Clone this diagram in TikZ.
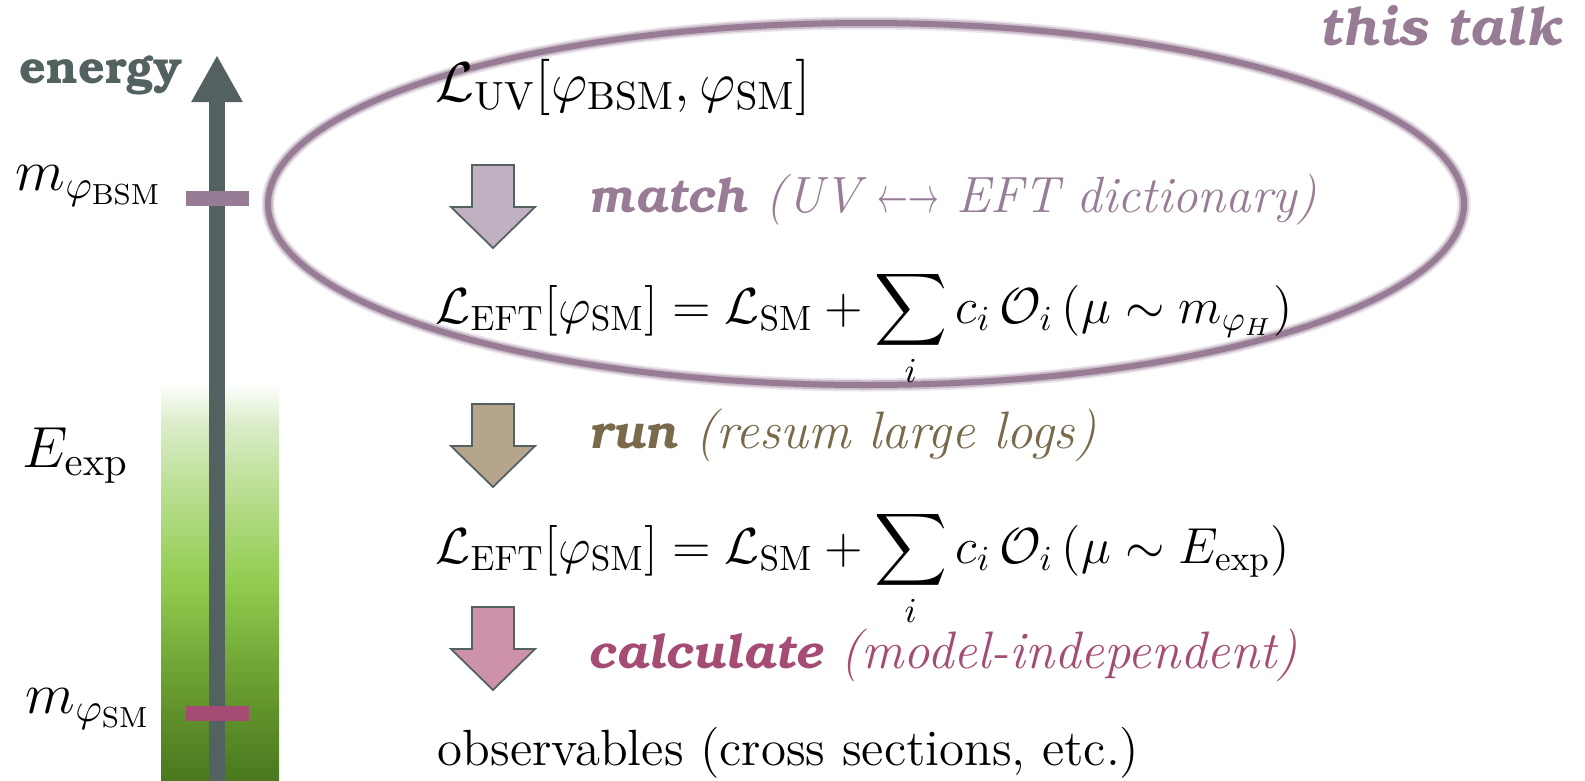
\RequirePackage{fix-cm}
\documentclass[tikz,border=0pt]{standalone}
\usepackage[T1,TU]{fontenc}
\usepackage{amsmath}
\usetikzlibrary{arrows.meta}

\definecolor{axisgray}{HTML}{536161}
\definecolor{talkpurple}{HTML}{987C96}
\definecolor{matchfill}{HTML}{C0B0C2}
\definecolor{runbrown}{HTML}{786A4B}
\definecolor{runfill}{HTML}{B4A58C}
\definecolor{calcred}{HTML}{A54C74}
\definecolor{calcfill}{HTML}{CD91AA}

\pgfdeclareverticalshading{energyband}{100bp}{rgb(0bp)=(0.29,0.47,0.12); rgb(25bp)=(0.29,0.47,0.12); rgb(36bp)=(0.40,0.60,0.18); rgb(50bp)=(0.57,0.80,0.31); rgb(61bp)=(0.72,0.87,0.56); rgb(70bp)=(0.86,0.93,0.79); rgb(75bp)=(1,1,1); rgb(100bp)=(1,1,1)}

\newcommand\bookdemi{\fontencoding{T1}\fontfamily{pbk}\fontseries{db}\selectfont}
\newcommand\stepword[1]{{\fontsize{13.5}{16}\bookdemi\itshape #1}}
\newcommand\dictarrows{\scalebox{0.6}[1]{$\leftarrow$}\scalebox{0.6}[1]{$\rightarrow$}}

\begin{document}
\begin{tikzpicture}[
  x=0.1mm, y=-0.1mm,
  mathrow/.style={anchor=base west, inner sep=0, font=\fontsize{14.4}{17}\selectfont},
  steplabel/.style={anchor=base west, inner sep=0, font=\fontsize{15}{18}\selectfont\itshape},
  tickmark/.style={rectangle, minimum width=6.3mm, minimum height=1.5mm, inner sep=0},
  scalelabel/.style={anchor=base west, inner sep=0, font=\fontsize{16.5}{19}\selectfont},
  talkring/.style={draw=talkpurple, line width=0.6mm},
  pics/blockarrow/.style={code={
    \filldraw[fill=#1, draw=axisgray, line width=0.5pt, line join=miter]
      (-21,0) -- (21,0) -- (21,42) -- (42,42) -- (0,83) -- (-42,42) -- (-21,42) -- cycle;}}
]
\useasboundingbox (0,0) rectangle (1585,781);

\shade[shading=energyband] (161,383) rectangle (279,781);
\coordinate (axis bottom) at (217,781);
\coordinate (axis top) at (217,55);
\draw[axisgray, line width=1.6mm, -{Triangle[width=4.8mm,length=4.7mm]}] (axis bottom) -- (axis top);
\node[tickmark, fill=talkpurple] (bsm tick) at (217,198) {};
\node[tickmark, fill=calcred] (sm tick) at (217,713) {};

\node[anchor=base east, inner sep=0, text=axisgray, font=\fontsize{13.3}{15}\bookdemi] (energy label) at (183,83) {energy};
\node[scalelabel] (bsm mass) at (15,190) {$m_{\varphi_{\mathrm{BSM}}}$};
\node[scalelabel] (exp energy) at (22,467) {$E_{\mathrm{exp}}$};
\node[scalelabel] (sm mass) at (25,713) {$m_{\varphi_{\mathrm{SM}}}$};

\coordinate (ring center) at (866,204);
\draw[talkring, line width=1.3mm, opacity=0.2] (ring center) ellipse [x radius=598, y radius=181];
\draw[talkring, line width=0.95mm, opacity=0.4] (ring center) ellipse [x radius=598, y radius=181];
\draw[talkring] (ring center) ellipse [x radius=598, y radius=181];
\node[anchor=base east, inner sep=0, text=talkpurple, font=\fontsize{15}{18}\bookdemi\itshape] (this talk) at (1562,45) {this talk};

\node[mathrow, font=\fontsize{16}{19}\selectfont] (uv lagrangian) at (435,101) {$\mathcal{L}_{\mathrm{UV}}[\varphi_{\mathrm{BSM}},\varphi_{\mathrm{SM}}]$};
\pic (match arrow) at (493,165) {blockarrow=matchfill};
\node[steplabel, text=talkpurple] (match label) at (588,212) {\stepword{match} {\fontsize{14.5}{17}\selectfont(UV \dictarrows{} EFT dictionary)}};

\node[mathrow] (eft high) at (435,323) {$\displaystyle \mathcal{L}_{\mathrm{EFT}}[\varphi_{\mathrm{SM}}] = \mathcal{L}_{\mathrm{SM}} + \sum_i c_i\,\mathcal{O}_i\,(\mu\sim m_{\varphi_H})$};
\pic (run arrow) at (493,404) {blockarrow=runfill};
\node[steplabel, text=runbrown] (run label) at (588,448) {\stepword{run} (resum large logs)};

\node[mathrow] (eft low) at (435,563) {$\displaystyle \mathcal{L}_{\mathrm{EFT}}[\varphi_{\mathrm{SM}}] = \mathcal{L}_{\mathrm{SM}} + \sum_i c_i\,\mathcal{O}_i\,(\mu\sim E_{\mathrm{exp}})$};
\pic (calc arrow) at (493,607) {blockarrow=calcfill};
\node[steplabel, text=calcred] (calc label) at (588,668) {\stepword{calculate} (model-independent)};

\node[anchor=base west, inner sep=0, font=\fontsize{14.5}{17}\selectfont] (observables) at (437,765) {observables (cross sections, etc.)};
\end{tikzpicture}
\end{document}
